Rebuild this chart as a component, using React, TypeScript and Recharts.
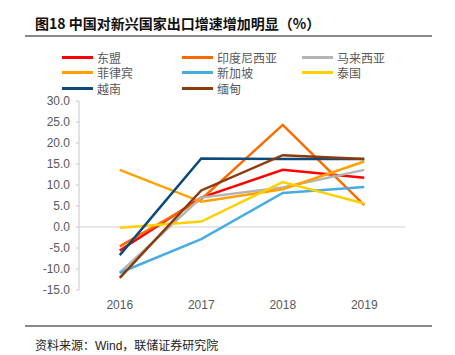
import React from 'react';
import { LineChart, Line, XAxis, YAxis, ReferenceLine } from 'recharts';

const years = ['2016', '2017', '2018', '2019'];

const asean = [-5.6, 7.0, 13.6, 11.7];
const indonesia = [-4.6, 6.6, 24.3, 5.2];
const malaysia = [-10.9, 7.0, 9.4, 13.6];
const philippines = [13.6, 6.0, 9.0, 15.6];
const singapore = [-10.9, -2.9, 8.1, 9.5];
const thailand = [-0.2, 1.3, 10.7, 5.6];
const vietnam = [-6.7, 16.3, 16.2, 16.2];
const myanmar = [-12.1, 8.7, 17.1, 16.2];

const yTicks = [30, 25, 20, 15, 10, 5, 0, -5, -10, -15];

const series = [
  { key: 'asean', name: '东盟', color: '#ff0000', values: asean },
  { key: 'indonesia', name: '印度尼西亚', color: '#ff6a00', values: indonesia },
  { key: 'malaysia', name: '马来西亚', color: '#b4b4b4', values: malaysia },
  { key: 'philippines', name: '菲律宾', color: '#ffa200', values: philippines },
  { key: 'singapore', name: '新加坡', color: '#48ace2', values: singapore },
  { key: 'thailand', name: '泰国', color: '#ffd000', values: thailand },
  { key: 'vietnam', name: '越南', color: '#0c4a7c', values: vietnam },
  { key: 'myanmar', name: '缅甸', color: '#8b3a0b', values: myanmar },
];

const data = years.map((year, i) => {
  const row: Record<string, string | number> = { year };
  series.forEach((s) => {
    row[s.key] = s.values[i];
  });
  return row;
});

const cjk = '"Noto Sans CJK SC", "Noto Sans", sans-serif';
const latin = '"Liberation Sans", Arial, sans-serif';

const Legend = () => (
  <div style={{ position: 'absolute', left: 62, top: 49, width: 380 }}>
    {series.map((s, i) => (
      <div
        key={s.key}
        style={{
          position: 'absolute',
          left: (i % 3) * 120,
          top: Math.floor(i / 3) * 15.5,
          display: 'flex',
          alignItems: 'center',
          height: 16,
          whiteSpace: 'nowrap',
        }}
      >
        <span style={{ display: 'inline-block', width: 31, height: 3, background: s.color }} />
        <span style={{ marginLeft: 4, fontSize: 12, color: '#595959', fontFamily: cjk }}>{s.name}</span>
      </div>
    ))}
  </div>
);

export default function App() {
  return (
    <div style={{ position: 'fixed', left: 0, top: 0, width: 455, height: 355, background: '#fff' }}>
      <div
        style={{
          position: 'absolute',
          left: 35,
          top: 13,
          fontSize: 14,
          fontWeight: 'bold',
          fontFamily: cjk,
          color: '#111',
          whiteSpace: 'nowrap',
        }}
      >
        图18 中国对新兴国家出口增速增加明显（%）
      </div>
      <div style={{ position: 'absolute', left: 25, top: 35, width: 407, height: 1.5, background: '#8a8a8a' }} />
      <Legend />
      <div style={{ position: 'absolute', left: 0, top: 0 }}>
        <LineChart
          width={455}
          height={355}
          data={data}
          margin={{ top: 101, left: 39, right: 50, bottom: 35 }}
        >
          <XAxis
            dataKey="year"
            scale="band"
            axisLine={false}
            tickLine={false}
            height={30}
            tick={{ fontSize: 12, fill: '#595959', fontFamily: latin }}
            tickMargin={4}
          />
          <YAxis
            width={40}
            domain={[-15, 30]}
            ticks={yTicks}
            interval={0}
            tickFormatter={(v: number) => v.toFixed(1)}
            axisLine={{ stroke: '#c8c8c8' }}
            tickLine={{ stroke: '#c8c8c8' }}
            tickSize={3}
            tickMargin={6}
            tick={{ fontSize: 12, fill: '#595959', fontFamily: latin }}
          />
          <ReferenceLine y={0} stroke="#d0d0d0" strokeWidth={1.2} />
          {series.map((s) => (
            <Line
              key={s.key}
              dataKey={s.key}
              name={s.name}
              stroke={s.color}
              strokeWidth={2.5}
              dot={false}
              activeDot={false}
              isAnimationActive={false}
            />
          ))}
        </LineChart>
      </div>
      <div style={{ position: 'absolute', left: 25, top: 325, width: 407, height: 1.5, background: '#8a8a8a' }} />
      <div
        style={{
          position: 'absolute',
          left: 35,
          top: 336,
          fontSize: 12,
          fontFamily: cjk,
          color: '#222',
          whiteSpace: 'nowrap',
        }}
      >
        资料来源：<span style={{ fontFamily: latin }}>Wind</span>，联储证券研究院
      </div>
    </div>
  );
}
